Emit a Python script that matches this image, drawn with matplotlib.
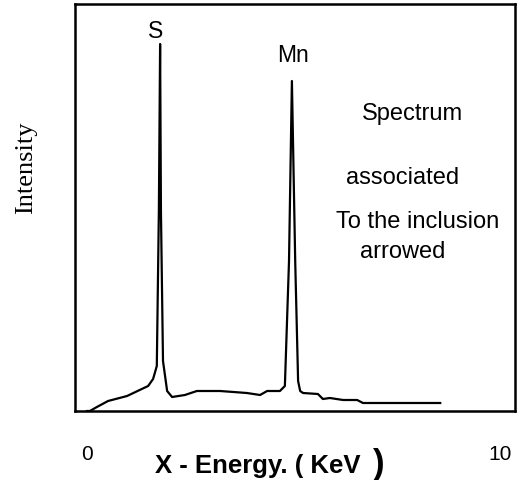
import matplotlib
matplotlib.use("Agg")
import matplotlib.pyplot as plt

# spectrum (x in axis units 0..10, intensity in arbitrary units)
energy = [0.0, 0.07, 0.24, 0.51, 0.97, 1.48, 1.60, 1.69, 1.74, 1.77, 1.79, 1.84,
          1.94, 2.06, 2.37, 2.66, 3.22, 3.87, 4.19, 4.36, 4.67, 4.79, 4.89, 4.96,
          5.04, 5.11, 5.16, 5.23, 5.59, 5.71, 5.88, 6.20, 6.54, 6.68, 8.55]
intensity = [0, 0, 4, 10, 15, 25, 32, 45, 200, 367, 200, 50,
             20, 14, 16, 20, 20, 18, 16, 20, 20, 25, 150, 330,
             150, 30, 20, 18, 17, 12, 13, 11, 11, 8, 8]

peak_labels = ["S", "Mn"]
peak_pos = [(1.65, 381), (4.99, 356)]
note_lines = ["Spectrum", "associated", "To the inclusion", "arrowed"]
note_pos = [(7.89, 298), (7.65, 234), (8.01, 190), (7.63, 160)]
tick_vals = [0, 10]
tick_text = ["0", "10"]

fig = plt.figure(figsize=(5.23, 4.81), dpi=100)
ax = fig.add_axes([75 / 523, 69 / 481, 440 / 523, 407 / 481])

ax.plot(energy, intensity, color="black", lw=1.6)
ax.set_xlim(-0.29, 10.36)
ax.set_ylim(0, 407)

sans = "Liberation Sans"
for lab, (x, y) in zip(peak_labels, peak_pos):
    ax.text(x, y, lab, ha="center", va="center", fontsize=16.5, family=sans)
for lab, (x, y) in zip(note_lines, note_pos):
    ax.text(x, y, lab, ha="center", va="center", fontsize=17, family=sans)

ax.set_xticks(tick_vals)
ax.set_xticklabels(tick_text, family=sans, fontsize=15)
ax.tick_params(axis="x", length=0, pad=24)
ax.set_yticks([])

# x label with the oversized closing bracket as in the original
fig.text(258 / 523, 1 - 466 / 481, "X - Energy. ( KeV", ha="center", va="center",
         fontsize=18.5, fontweight="bold", family=sans)
fig.text(379 / 523, 1 - 465 / 481, ")", ha="center", va="center",
         fontsize=25, fontweight="bold", family=sans)

ax.set_ylabel("Intensity", fontsize=19, family="Liberation Serif")
ax.yaxis.set_label_coords(-0.087, 0.60)

for s in ax.spines.values():
    s.set_linewidth(1.8)

fig.savefig("out.png", dpi=100)
